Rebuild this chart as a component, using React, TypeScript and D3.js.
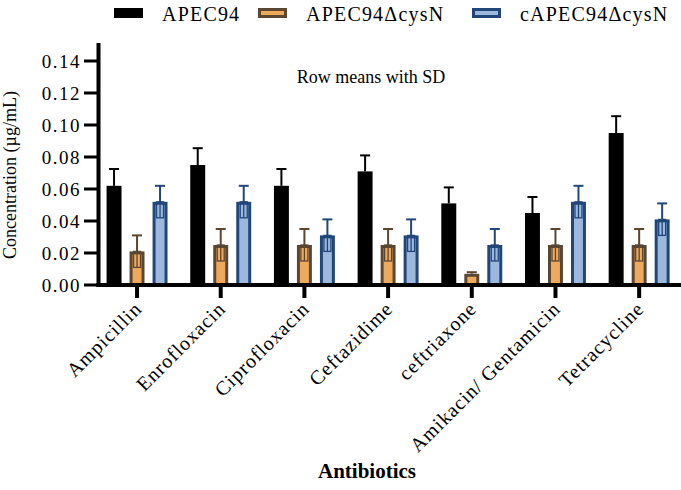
import React from "react";
import * as d3 from "d3";

const WIDTH = 681;
const HEIGHT = 490;
const FONT = '"Liberation Serif", Tinos, "Times New Roman", "DejaVu Serif", serif';

const categories = [
  "Ampicillin",
  "Enrofloxacin",
  "Ciprofloxacin",
  "Ceftazidime",
  "ceftriaxone",
  "Amikacin/ Gentamicin",
  "Tetracycline",
];

const seriesNames = ["APEC94", "APEC94\u0394cysN", "cAPEC94\u0394cysN"];

// means per category, one array per strain
const apec94 = [0.062, 0.075, 0.062, 0.071, 0.051, 0.045, 0.095];
const apec94Mutant = [0.021, 0.025, 0.025, 0.025, 0.007, 0.025, 0.025];
const apec94Complement = [0.052, 0.052, 0.031, 0.031, 0.025, 0.052, 0.041];

// standard deviations
const apec94Sd = [0.0105, 0.0105, 0.0105, 0.01, 0.01, 0.01, 0.0105];
const apec94MutantSd = [0.01, 0.01, 0.01, 0.01, 0.001, 0.01, 0.01];
const apec94ComplementSd = [0.01, 0.01, 0.01, 0.01, 0.01, 0.01, 0.01];

const yTicks = [0, 0.02, 0.04, 0.06, 0.08, 0.1, 0.12, 0.14];

const seriesStyle = [
  { fill: "#000000", stroke: "#000000", outlined: false },
  { fill: "#eeaa5c", stroke: "#5b4631", outlined: true },
  { fill: "#9cb8dd", stroke: "#21477a", outlined: true },
];

const legendX = [114, 258, 472];

export default function App() {
  const y = d3.scaleLinear().domain([0, 0.15]).range([285, 45]);
  const x = d3.scaleBand().domain(categories).range([95.2, 681]);
  const sub = d3
    .scaleBand()
    .domain(seriesNames)
    .range([-34.5, 34.5])
    .paddingInner(0.35)
    .paddingOuter(0.175);

  const means = [apec94, apec94Mutant, apec94Complement];
  const sds = [apec94Sd, apec94MutantSd, apec94ComplementSd];
  const bw = sub.bandwidth();
  const capHalf = 5;

  const bars: React.ReactNode[] = [];
  seriesNames.forEach((name, si) => {
    const st = seriesStyle[si];
    categories.forEach((cat, ci) => {
      const cx = (x(cat) as number) + x.bandwidth() / 2 + (sub(name) as number) + bw / 2;
      const v = means[si][ci];
      const sd = sds[si][ci];
      const top = y(v);
      const errTop = y(v + sd);
      const errBottom = Math.min(y(v - sd), y(0));
      const key = `${si}-${ci}`;
      bars.push(
        <g key={key}>
          {/* upper error bar */}
          <line x1={cx} x2={cx} y1={top} y2={errTop} stroke={st.stroke} strokeWidth={2} />
          <line x1={cx - capHalf} x2={cx + capHalf} y1={errTop} y2={errTop} stroke={st.stroke} strokeWidth={2} />
          {st.outlined ? (
            <rect
              x={cx - bw / 2 + 1.5}
              y={top + 1.5}
              width={bw - 3}
              height={Math.max(0, y(0) - top - 1.5)}
              fill={st.fill}
              stroke={st.stroke}
              strokeWidth={3}
            />
          ) : (
            <rect x={cx - bw / 2} y={top} width={bw} height={y(0) - top} fill={st.fill} />
          )}
          {st.outlined && errBottom - top > 3 && (
            <g>
              <rect
                x={cx - 3.5}
                y={top}
                width={7}
                height={errBottom - top}
                fill="none"
                stroke={st.stroke}
                strokeWidth={1.3}
              />
              <line x1={cx} x2={cx} y1={top} y2={errBottom} stroke={st.stroke} strokeWidth={1.3} />
            </g>
          )}
        </g>
      );
    });
  });

  return (
    <svg
      width={WIDTH}
      height={HEIGHT}
      style={{ position: "absolute", left: 0, top: 0, background: "#fff", fontFamily: FONT }}
    >
      {/* legend */}
      {seriesNames.map((name, i) => {
        const st = seriesStyle[i];
        return (
          <g key={name} transform={`translate(${legendX[i]},8)`}>
            {st.outlined ? (
              <rect x={1.5} y={1.5} width={26} height={7} fill={st.fill} stroke={st.stroke} strokeWidth={3} />
            ) : (
              <rect x={0} y={0} width={29} height={10} fill={st.fill} />
            )}
            <text x={48} y={13} fontSize={20} letterSpacing={1.2} fill="#000">
              {name}
            </text>
          </g>
        );
      })}

      <text x={371} y={83} fontSize={18} textAnchor="middle" fill="#000">
        Row means with SD
      </text>

      {bars}

      {/* y axis */}
      <line x1={98.5} x2={98.5} y1={y(0.15) - 2} y2={y(0) + 2} stroke="#000" strokeWidth={4} />
      {yTicks.map((t) => (
        <g key={t}>
          <line x1={84} x2={98} y1={y(t)} y2={y(t)} stroke="#000" strokeWidth={3} />
          <text x={81} y={y(t)} dy="0.35em" fontSize={19} letterSpacing={1.5} textAnchor="end" fill="#000">
            {d3.format(".2f")(t)}
          </text>
        </g>
      ))}
      <text
        transform={`translate(16,${175}) rotate(-90)`}
        fontSize={18}
        textAnchor="middle"
        fill="#000"
      >
        Concentration (µg/mL)
      </text>

      {/* x axis */}
      <line x1={96.5} x2={681} y1={y(0)} y2={y(0)} stroke="#000" strokeWidth={4} />
      {categories.map((c) => {
        const cx = (x(c) as number) + x.bandwidth() / 2;
        return (
          <g key={c}>
            <line x1={cx} x2={cx} y1={y(0)} y2={y(0) + 13} stroke="#000" strokeWidth={4} />
            <text
              transform={`translate(${cx + 6},${y(0) + 25}) rotate(-45)`}
              fontSize={20}
              letterSpacing={1}
              textAnchor="end"
              fill="#000"
            >
              {c}
            </text>
          </g>
        );
      })}
      <text x={367} y={478} fontSize={21} fontWeight="bold" textAnchor="middle" fill="#000">
        Antibiotics
      </text>
    </svg>
  );
}
